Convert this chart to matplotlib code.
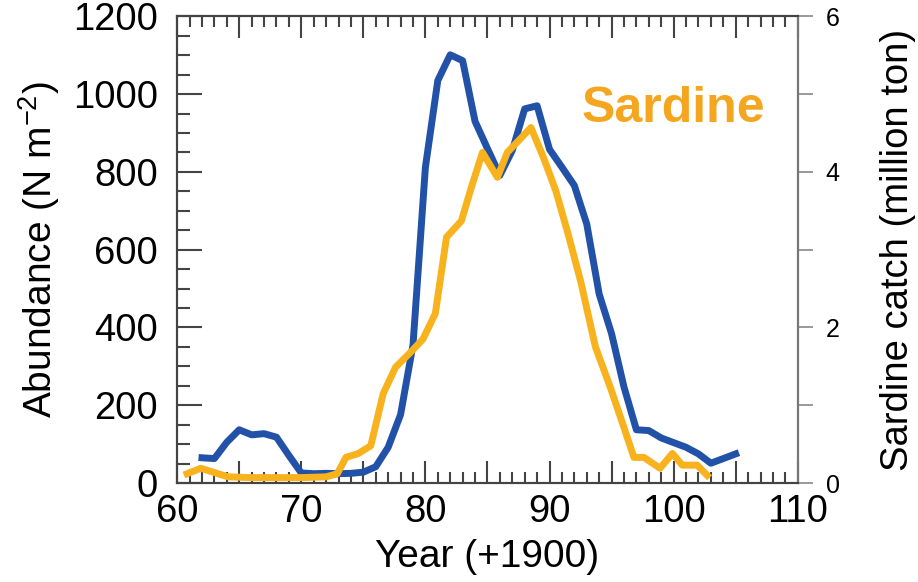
import matplotlib.pyplot as plt
from matplotlib.ticker import MultipleLocator, FuncFormatter

plt.rcParams['font.family'] = ['Liberation Sans', 'DejaVu Sans']

# abundance (left axis)
abund_year = [62, 63, 64, 65, 66, 67, 68, 69, 70, 71, 72, 73, 74, 75, 76, 77,
              78, 79, 80, 81, 82, 83, 84, 85, 86, 87, 88, 89, 90, 91, 92, 93,
              94, 95, 96, 97, 98, 99, 100, 101, 102, 103, 104, 105]
abundance = [65, 63, 105, 137, 124, 127, 118, 71, 26, 24, 25, 24, 25, 28, 42, 92,
             176, 355, 812, 1035, 1101, 1086, 930, 860, 791, 855, 962, 970, 858, 812, 765, 666,
             486, 384, 247, 137, 135, 116, 104, 92, 75, 51, 63, 75]

# sardine catch in million ton (right axis)
catch_year = [60.8, 61.9, 62.9, 64.1, 66, 68, 70, 72, 72.9, 73.6, 74.6, 75.6,
              76.6, 77.6, 78.8, 79.8, 80.8, 81.7, 82.9, 83.7, 84.6, 85.8, 86.6, 87.5,
              88.5, 89.5, 90.5, 91.5, 92.5, 93.7, 94.9, 95.9, 96.8, 97.6, 98.9, 99.9,
              100.7, 101.9, 102.7]
catch = [0.12, 0.19, 0.14, 0.08, 0.07, 0.07, 0.07, 0.08, 0.12, 0.33, 0.38, 0.48,
         1.15, 1.49, 1.68, 1.85, 2.18, 3.16, 3.37, 3.80, 4.25, 3.93, 4.25, 4.40,
         4.57, 4.19, 3.76, 3.20, 2.60, 1.75, 1.23, 0.76, 0.33, 0.33, 0.19, 0.38,
         0.23, 0.23, 0.10]

blue = '#2152a8'
orange = '#f8b21d'
axis_col = '#444444'

fig = plt.figure(figsize=(9.18, 5.82), dpi=100)
ax = fig.add_axes([0.193, 0.170, 0.676, 0.802])
ax2 = ax.twinx()

ax.plot(abund_year, abundance, color=blue, lw=5, solid_joinstyle='round')
ax2.plot(catch_year, catch, color=orange, lw=5, solid_joinstyle='round')

ax.set_xlim(60, 110)
ax.set_ylim(0, 1200)
ax2.set_ylim(0, 6)

ax.xaxis.set_major_locator(MultipleLocator(5))
ax.xaxis.set_minor_locator(MultipleLocator(1))
ax.xaxis.set_major_formatter(FuncFormatter(lambda v, p: '%d' % v if v % 10 == 0 else ''))
ax.yaxis.set_major_locator(MultipleLocator(200))
ax.yaxis.set_minor_locator(MultipleLocator(50))
ax2.yaxis.set_major_locator(MultipleLocator(2))
ax2.yaxis.set_minor_locator(MultipleLocator(1))

ax.tick_params(axis='x', which='both', direction='in', top=True, bottom=True,
               color=axis_col, width=1.5, labelsize=27.5, pad=8)
ax.tick_params(axis='x', which='major', length=16)
ax.tick_params(axis='x', which='minor', length=8)
ax.tick_params(axis='y', which='both', direction='in', left=True, right=False,
               color=axis_col, width=1.5, labelsize=27.5, pad=14)
ax.tick_params(axis='y', which='major', length=18)
ax.tick_params(axis='y', which='minor', length=9)
ax2.tick_params(axis='y', which='both', direction='out', length=11, width=1.2,
                color='#888888', labelsize=18, pad=9)

for a in (ax, ax2):
    for s in a.spines.values():
        s.set_color(axis_col)
        s.set_linewidth(1.5)
ax2.spines['right'].set_color('#777777')

ax.set_xlabel('Year (+1900)', fontsize=28, labelpad=6)
ax.set_ylabel('Abundance (N m$^{\\mathregular{-2}}$)', fontsize=28, labelpad=8)
ax2.set_ylabel('Sardine catch (million ton)', fontsize=27.5, labelpad=29)

ax.text(100, 962, 'Sardine', color='#f5a61f', fontsize=36, fontweight='bold',
        ha='center', va='center')

fig.savefig('out.png', dpi=100)
